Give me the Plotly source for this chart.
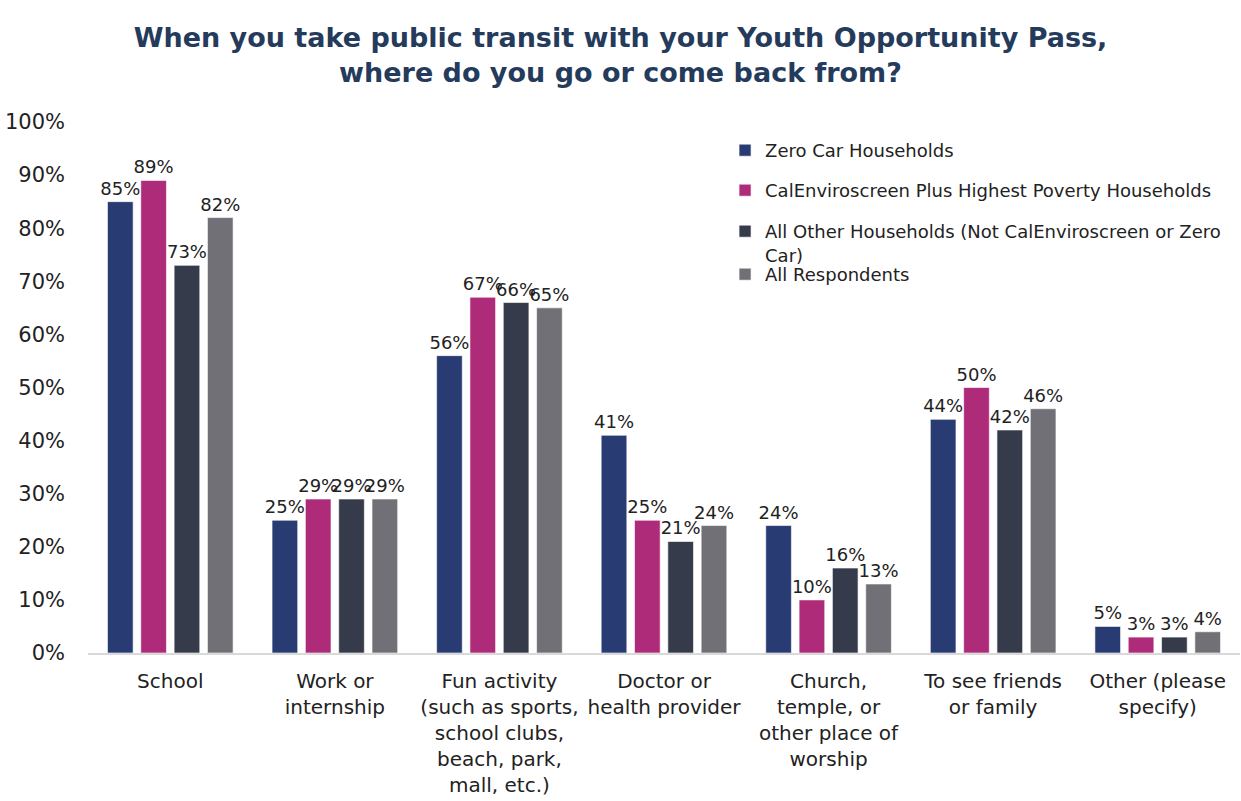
import plotly.graph_objects as go

# Destinations reached with the Youth Opportunity Pass (share of respondents, %)
categories = [
    "School",
    "Work or<br>internship",
    "Fun activity<br>(such as sports,<br>school clubs,<br>beach, park,<br>mall, etc.)",
    "Doctor or<br>health provider",
    "Church,<br>temple, or<br>other place of<br>worship",
    "To see friends<br>or family",
    "Other (please<br>specify)",
]
series_names = [
    "Zero Car Households",
    "CalEnviroscreen Plus Highest Poverty Households",
    "All Other Households (Not CalEnviroscreen or Zero<br>Car)",
    "All Respondents",
]
zero_car = [85, 25, 56, 41, 24, 44, 5]
calenviro_poverty = [89, 29, 67, 25, 10, 50, 3]
all_other = [73, 29, 66, 21, 16, 42, 3]
all_respondents = [82, 29, 65, 24, 13, 46, 4]
y_ticks = [0, 10, 20, 30, 40, 50, 60, 70, 80, 90, 100]

series_values = [zero_car, calenviro_poverty, all_other, all_respondents]
colors = ["#293B73", "#AE2B79", "#353B4B", "#717076"]
legend_ids = ["legend", "legend2", "legend3", "legend4"]

FONT = "DejaVu Sans"
TEXT_COLOR = "#222222"

fig = go.Figure()
for name, vals, col, lg in zip(series_names, series_values, colors, legend_ids):
    fig.add_trace(
        go.Bar(
            x=categories,
            y=vals,
            name=name,
            marker=dict(color=col, line=dict(color="rgba(255,255,255,0.6)", width=1)),
            text=[f"{v}%" for v in vals],
            textposition="outside",
            textfont=dict(family=FONT, size=18, color=TEXT_COLOR),
            constraintext="none",
            cliponaxis=False,
            legend=lg,
            hoverinfo="skip",
        )
    )

# Legend rows placed individually (pixel rows 150, 190, 231, 274 of the page)
plot_top, plot_bottom = 122, 653
plot_h = plot_bottom - plot_top


def ypaper(px):
    return (plot_bottom - px) / plot_h


legend_rows = [150, 190, 231, 274]
legend_common = dict(
    x=0.553,
    xanchor="left",
    yanchor="top",
    bgcolor="rgba(0,0,0,0)",
    font=dict(family=FONT, size=18, color=TEXT_COLOR),
    valign="top",
    itemclick=False,
    itemdoubleclick=False,
)
legend_layout = {}
for lg, row in zip(legend_ids, legend_rows):
    legend_layout[lg] = dict(legend_common, y=ypaper(row - 18))

fig.update_layout(
    width=1241,
    height=801,
    margin=dict(l=88, r=1, t=plot_top, b=801 - plot_bottom, autoexpand=False),
    paper_bgcolor="white",
    plot_bgcolor="white",
    barmode="group",
    bargap=0.19,
    bargroupgap=0.23,
    showlegend=True,
    title=dict(
        text="<b>When you take public transit with your Youth Opportunity Pass,<br>where do you go or come back from?</b>",
        x=0.5,
        xanchor="center",
        y=1 - 47 / 801,
        yanchor="middle",
        font=dict(family=FONT, size=27, color="#253B5C"),
    ),
    xaxis=dict(
        showgrid=False,
        showline=True,
        linecolor="#D9D9D9",
        linewidth=2,
        ticks="",
        ticklabelstandoff=9,
        tickfont=dict(family=FONT, size=20, color=TEXT_COLOR),
        fixedrange=True,
    ),
    yaxis=dict(
        range=[0, 100],
        tickvals=y_ticks,
        ticktext=[f"{t}%" for t in y_ticks],
        showgrid=False,
        showline=False,
        zeroline=False,
        ticks="",
        ticklabelstandoff=22,
        tickfont=dict(family=FONT, size=21, color=TEXT_COLOR),
        fixedrange=True,
    ),
    **legend_layout,
)

fig.write_html("out.html")
